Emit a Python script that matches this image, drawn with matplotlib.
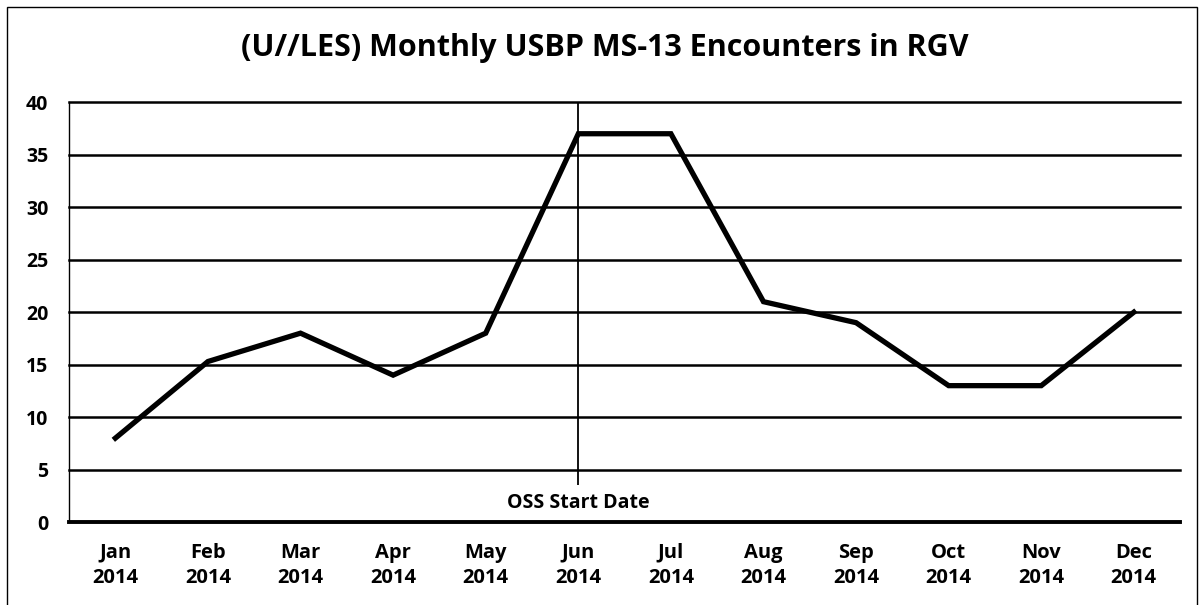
import matplotlib.pyplot as plt
from matplotlib.patches import Rectangle

plt.rcParams['font.family'] = ['Open Sans', 'DejaVu Sans']

months = ['Jan', 'Feb', 'Mar', 'Apr', 'May', 'Jun', 'Jul', 'Aug', 'Sep', 'Oct', 'Nov', 'Dec']
year = '2014'
encounters = [8, 15.3, 18, 14, 18, 37, 37, 21, 19, 13, 13, 20]
yticks = [0, 5, 10, 15, 20, 25, 30, 35, 40]
oss_month = 'Jun'

fig = plt.figure(figsize=(12.03, 6.05), dpi=100)
ax = fig.add_axes([0.0574, 0.137, 0.9236, 0.694])

x = list(range(len(months)))
for v in yticks[1:]:
    ax.axhline(v, color='black', lw=1.8, clip_on=False, zorder=1)

ax.plot(x, encounters, color='black', lw=3.8, solid_joinstyle='miter', zorder=3)

xo = months.index(oss_month)
ax.vlines(xo, 3.5, 40, color='black', lw=1.3, zorder=2)
ax.text(xo, 1.8, 'OSS Start Date', ha='center', va='center', fontsize=14, fontweight='bold')

ax.set_xlim(-0.5, len(months) - 0.5)
ax.set_ylim(0, 40)
ax.set_yticks(yticks)
ax.set_yticklabels([str(v) for v in yticks], fontsize=14, fontweight='bold')
ax.set_xticks(x)
ax.set_xticklabels([m + '\n' + year for m in months], fontsize=14.5, fontweight='bold', linespacing=1.35)
ax.tick_params(axis='y', length=0, pad=15)
ax.tick_params(axis='x', length=0, pad=15)

ax.spines['top'].set_visible(False)
ax.spines['right'].set_visible(False)
ax.spines['left'].set_linewidth(1.0)
ax.spines['bottom'].set_linewidth(2.8)

fig.text(0.503, 0.92, '(U//LES) Monthly USBP MS-13 Encounters in RGV', ha='center', va='center',
         fontsize=22, fontweight='bold')

# outer frame of the scanned chart
fig.patches.append(Rectangle((7 / 1203, -0.01), 1190 / 1203, 1.01 - 7 / 605, transform=fig.transFigure,
                             fill=False, edgecolor='black', lw=1.0))

plt.savefig('out.png', dpi=100)
